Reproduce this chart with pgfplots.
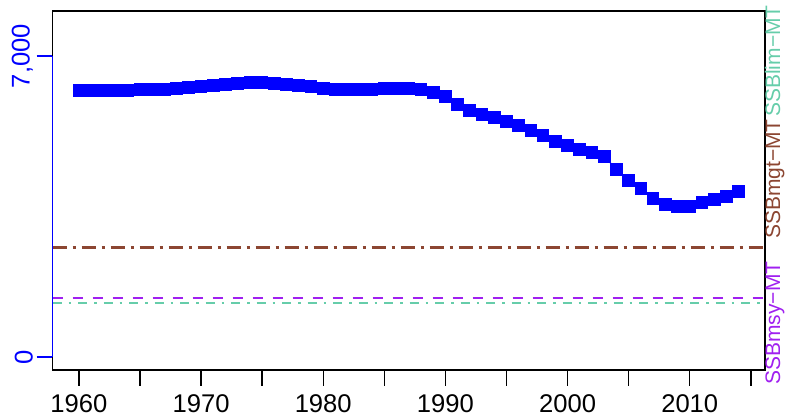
\documentclass[border=0pt]{standalone}
\usepackage{fontspec}
\setmainfont{Liberation Sans}
\usepackage{pgfplots}
\pgfplotsset{compat=1.18}
\definecolor{mgtbrown}{RGB}{140,70,50}
\definecolor{msypurple}{RGB}{160,32,240}
\definecolor{limgreen}{RGB}{102,205,170}
\pgfplotstableread{
year ssb
1960 6200
1961 6200
1962 6200
1963 6200
1964 6200
1965 6223
1966 6223
1967 6223
1968 6246
1969 6269
1970 6295
1971 6316
1972 6339
1973 6362
1974 6385
1975 6385
1976 6362
1977 6339
1978 6316
1979 6292
1980 6246
1981 6223
1982 6223
1983 6223
1984 6223
1985 6246
1986 6246
1987 6246
1988 6223
1989 6153
1990 6060
1991 5875
1992 5735
1993 5643
1994 5568
1995 5480
1996 5387
1997 5271
1998 5155
1999 5016
2000 4923
2001 4831
2002 4761
2003 4668
2004 4367
2005 4111
2006 3926
2007 3694
2008 3555
2009 3508
2010 3508
2011 3601
2012 3670
2013 3740
2014 3856
}\ssbdata
\begin{document}
\begin{tikzpicture}[x=1pt,y=1pt]
\useasboundingbox (0,0) rectangle (785,420);
\begin{axis}[
  at={(52.5pt,50pt)}, anchor=south west,
  scale only axis, width=712.5pt, height=359pt,
  xmin=1957.84, xmax=2016.16, ymin=-300, ymax=8050,
  clip=false,
  axis line style={line width=1.4pt},
  xtick={1960,1965,...,2015},
  xticklabels={1960,,1970,,1980,,1990,,2000,,2010,},
  ytick={0,7000},
  tick align=outside, tick pos=left,
  major tick length=16pt,
  tick style={line width=1.4pt, black},
  ytick style={blue, line width=1.4pt},
  xticklabel style={font=\fontsize{25.6}{26}\selectfont, yshift=-5pt},
  yticklabel style={font=\fontsize{25.6}{26}\selectfont, text=blue, rotate=90, anchor=south},
  /pgf/number format/assume math mode=true,
  /pgf/number format/1000 sep={,},
  scaled y ticks=false,
]
\addplot[mgtbrown, line width=2.4pt, dash pattern=on 14pt off 6pt on 3pt off 6pt] coordinates {(1957.84,2552) (2016.16,2552)};
\addplot[msypurple, line width=2.4pt, dash pattern=on 10pt off 10pt] coordinates {(1957.84,1369) (2016.16,1369)};
\addplot[limgreen, line width=2.4pt, dash pattern=on 9pt off 7pt on 2.5pt off 7pt] coordinates {(1957.84,1253) (2016.16,1253)};
\addplot[blue, line width=1.2pt, mark=square*, mark size=5.85pt, mark options={solid, fill=blue, draw=blue, line width=0pt}] table[x=year, y=ssb] {\ssbdata};
\draw[blue, line width=1.6pt] (axis cs:1957.84,0) -- (axis cs:1957.84,7000);
\end{axis}
\node[rotate=90, anchor=base, inner sep=0, text=limgreen, font=\fontsize{21}{21}\selectfont] at (780,359) {SSBlim−MT};
\node[rotate=90, anchor=base, inner sep=0, text=mgtbrown, font=\fontsize{21}{21}\selectfont] at (780,241) {SSBmgt−MT};
\node[rotate=90, anchor=base, inner sep=0, text=msypurple, font=\fontsize{21}{21}\selectfont] at (780,97) {SSBmsy−MT};
\end{tikzpicture}
\end{document}
